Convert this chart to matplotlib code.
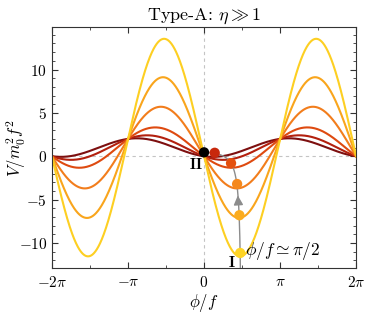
import numpy as np
import matplotlib.pyplot as plt

plt.rcParams['mathtext.fontset'] = 'cm'
plt.rcParams['font.family'] = 'serif'
plt.rcParams['font.serif'] = ['cmr10', 'DejaVu Serif']
plt.rcParams['axes.formatter.use_mathtext'] = True

tilt = [0.38, 1.0, 2.1, 4.6, 8.05, 12.5]
curve_colors = ['#7d0f0f', '#b3200e', '#de4a10', '#f27d1c', '#f9a51c', '#fdcf22']

# marked points (x in units of pi)
dot_x = [0.0, 0.14, 0.355, 0.435, 0.465, 0.475]
dot_y = [0.45, 0.4, -0.8, -3.2, -6.8, -11.15]
dot_colors = ['#000000', '#c8280c', '#e4500e', '#f5881c', '#fbac1e', '#fed425']

xticks = [-2, -1, 0, 1, 2]
xticklabels = [r'$-2\pi$', r'$-\pi$', r'$0$', r'$\pi$', r'$2\pi$']
yticks = [-10, -5, 0, 5, 10]

fig = plt.figure(figsize=(3.66, 3.14), dpi=100)
ax = fig.add_axes([0.142, 0.146, 0.831, 0.768])

phi = np.linspace(-2 * np.pi, 2 * np.pi, 800)
for a, c in zip(tilt, curve_colors):
    V = 1 - np.cos(phi) - a * np.sin(phi)
    ax.plot(phi, V, color=c, lw=1.5, zorder=2)

ax.axhline(0, color='#c4c4c4', ls=(0, (3, 3)), lw=0.8, zorder=1)
ax.axvline(0, color='#c4c4c4', ls=(0, (3, 3)), lw=0.8, zorder=1)

# trajectory of the minimum (guide line)
s = np.linspace(0, 40, 600)
ax.plot(np.arctan(s), 1 - np.sqrt(1 + s**2) + 0.45, color='#8c8c8c', lw=1.0, zorder=3)
ax.annotate('', xy=(np.arctan(5.4), -4.2), xytext=(np.arctan(6.4), -5.4),
            arrowprops=dict(arrowstyle='-|>', color='#8c8c8c', lw=1.0, mutation_scale=14),
            zorder=3)

ax.scatter(np.array(dot_x) * np.pi, dot_y, s=55, c=dot_colors, zorder=4, linewidths=0)

ax.text(-0.11 * np.pi, -1.0, r'$\mathbf{II}$', fontsize=11, ha='center', va='center')
ax.text(0.36 * np.pi, -12.2, r'$\mathbf{I}$', fontsize=11, ha='center', va='center')
ax.text(0.54 * np.pi, -10.9, r'$\phi/f \simeq \pi/2$', fontsize=12.5, ha='left', va='center')

ax.set_xlim(-2 * np.pi, 2 * np.pi)
ax.set_ylim(-12.9, 14.9)
ax.set_xticks(np.array(xticks) * np.pi)
ax.set_xticklabels(xticklabels)
ax.set_xticks(np.arange(-2, 2.01, 0.5) * np.pi, minor=True)
ax.set_yticks(yticks)
ax.set_yticks(np.arange(-12, 15, 1), minor=True)
ax.tick_params(which='both', direction='in', top=True, right=True, labelsize=11, color='#333333')
ax.tick_params(which='major', length=4)
ax.tick_params(which='minor', length=2)
ax.tick_params(axis='x', pad=5)
for sp in ax.spines.values():
    sp.set_color('#333333')

ax.set_xlabel(r'$\phi/f$', fontsize=12)
ax.xaxis.set_label_coords(0.5, -0.1)
ax.set_ylabel(r'$V/m_0^2 f^2$', fontsize=12)
ax.yaxis.set_label_coords(-0.08, 0.5)
ax.set_title(r'Type-A: $\eta \gg 1$', fontsize=13, pad=5)

fig.savefig('out.png', dpi=100)
